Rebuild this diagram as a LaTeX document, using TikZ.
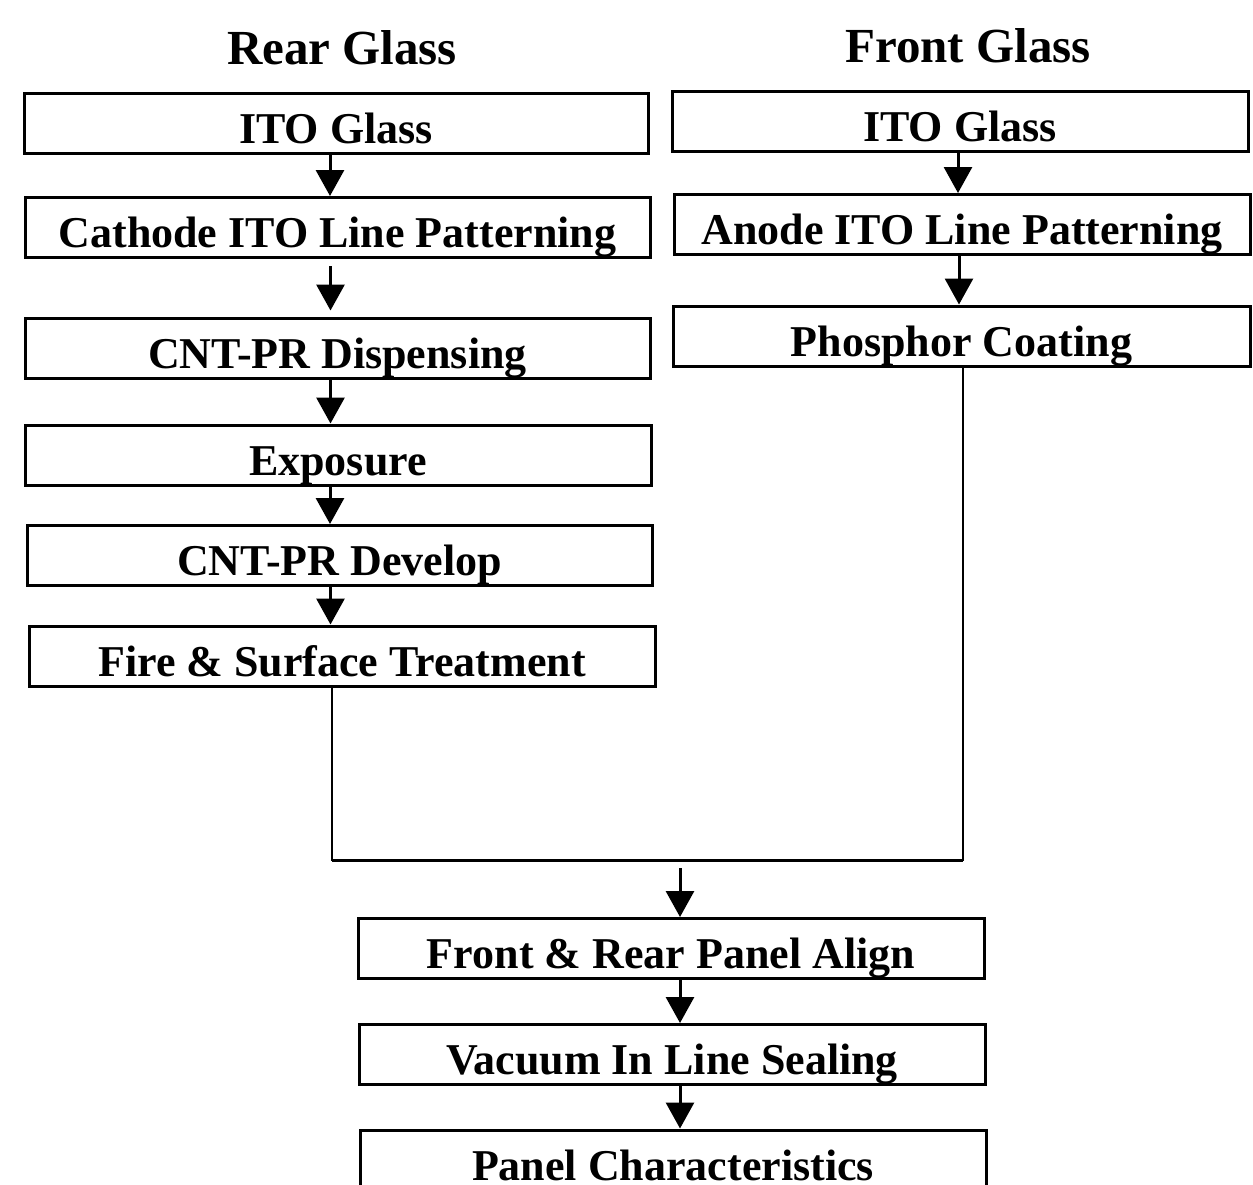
\documentclass[tikz,border=0pt]{standalone}
\usepackage{fontspec}
\setmainfont{Liberation Serif}
\usetikzlibrary{arrows.meta}
\begin{document}
\begin{tikzpicture}[x=1pt,y=-1pt,
 box/.style={draw,line width=3pt,inner sep=0pt,minimum height=60pt,text height=50pt,text depth=10pt,font=\fontsize{44}{50}\selectfont\bfseries},
 arr/.style={line width=3pt,-{Triangle[length=26pt,width=28pt]}},
 link/.style={line width=2.2pt},
 ttl/.style={font=\fontsize{49}{55}\selectfont\bfseries,anchor=base,inner sep=0pt}]
\useasboundingbox (0,0) rectangle (1253,1184);

\node[ttl] (rt) at (342,64) {Rear Glass};
\node[ttl] (ft) at (968,62) {Front Glass};

\node[box,minimum width=624pt] (r1) at (336,123.5) {ITO Glass};
\node[box,minimum width=625pt] (r2) at (337.5,227.5) {Cathode ITO Line Patterning};
\node[box,minimum width=625pt] (r3) at (337.5,348) {CNT-PR Dispensing};
\node[box,minimum width=626pt] (r4) at (338,455) {Exposure};
\node[box,minimum width=625pt] (r5) at (339.5,555.5) {CNT-PR Develop};
\node[box,minimum width=626pt] (r6) at (342,656) {Fire \& Surface Treatment};

\node[box,minimum width=576pt] (f1) at (960,121.5) {ITO Glass};
\node[box,minimum width=576pt] (f2) at (962,224.5) {Anode ITO Line Patterning};
\node[box,minimum width=577pt] (f3) at (961.5,336) {Phosphor Coating};

\node[box,minimum width=626pt] (b1) at (671,948.5) {Front \& Rear Panel Align};
\node[box,minimum width=626pt] (b2) at (672,1054.5) {Vacuum In Line Sealing};
\node[box,minimum width=626pt,minimum height=56pt,text height=48pt,text depth=4pt] (b3) at (673,1158) {Panel Characteristics};

\draw[arr] ([xshift=-6pt]r1.south) -- ([xshift=-6pt]r1.south |- r2.north);
\draw[arr,shorten <=7pt,shorten >=6pt] ([xshift=-7pt]r2.south) -- ([xshift=-7pt]r2.south |- r3.north);
\draw[arr] ([xshift=-7pt]r3.south) -- ([xshift=-7pt]r3.south |- r4.north);
\draw[arr] ([xshift=-8pt]r4.south) -- ([xshift=-8pt]r4.south |- r5.north);
\draw[arr] ([xshift=-9pt]r5.south) -- ([xshift=-9pt]r5.south |- r6.north);

\draw[arr] ([xshift=-2pt]f1.south) -- ([xshift=-2pt]f1.south |- f2.north);
\draw[arr] ([xshift=-3pt]f2.south) -- ([xshift=-3pt]f2.south |- f3.north);

\coordinate (m) at (680,860);
\coordinate (mtop) at (680,868);
\draw[link] ([xshift=-10pt]r6.south) |- (m) -| ([xshift=1.5pt]f3.south);
\draw[line width=3pt] ([xshift=-10pt]r6.south |- m) -- (m) -| ([xshift=1.5pt]f3.south |- m);
\draw[arr] (mtop) -- (mtop |- b1.north);

\draw[arr] ([xshift=9pt]b1.south) -- ([xshift=9pt]b1.south |- b2.north);
\draw[arr] ([xshift=8pt]b2.south) -- ([xshift=8pt]b2.south |- b3.north);
\end{tikzpicture}
\end{document}
